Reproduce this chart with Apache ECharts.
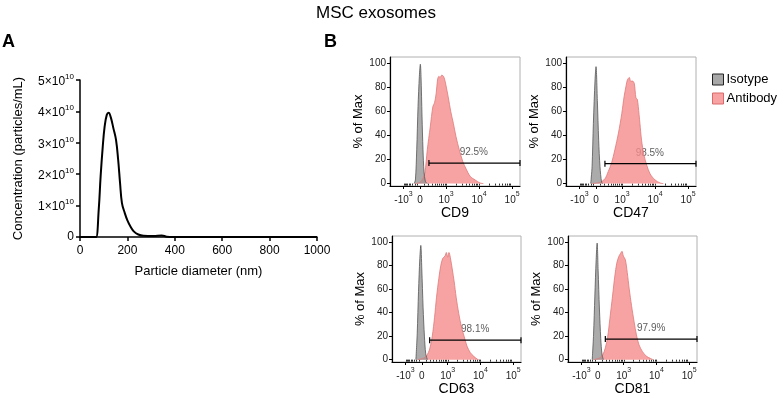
<!DOCTYPE html>
<html lang="en">
<head>
<meta charset="UTF-8">
<title>MSC exosomes</title>
</head>
<body style="margin:0">
<div id="container" style="width:778px;height:397px"></div>
<script src="https://cdn.jsdelivr.net/npm/echarts@6/dist/echarts.min.js"></script>
<script>
// Panel A: particle size distribution (concentration in 10^10 particles/mL)
var diameterNm = [0, 60, 68, 79, 87, 96, 104, 113, 121, 130, 141, 152, 161, 169, 177, 189, 200, 214, 228, 246, 268, 310, 345, 366, 394, 1000];
var concentration = [0, 0, 0, 0.87, 1.93, 2.88, 3.52, 3.89, 3.96, 3.81, 3.46, 3.09, 2.46, 1.72, 1.08, 0.76, 0.53, 0.32, 0.17, 0.08, 0.04, 0.03, 0.05, 0.01, 0, 0];

// Panel B: flow histograms, x in display (biexponential) units, y in % of max
var markers = ['CD9', 'CD47', 'CD63', 'CD81'];
var cd9IsoX = [2.03, 2.07, 2.11, 2.15, 2.19, 2.22, 2.24, 2.27, 2.30, 2.33, 2.37, 2.43];
var cd9IsoY = [0, 3, 28, 64, 89, 99, 89, 56, 28, 10, 2, 0];
var cd9AbX = [2.06, 2.21, 2.31, 2.36, 2.43, 2.52, 2.60, 2.65, 2.70, 2.74, 2.78, 2.82, 2.87, 2.92, 2.96, 3.00, 3.07, 3.14, 3.22, 3.30, 3.40, 3.51, 3.61, 3.73, 3.88, 4.03, 4.13];
var cd9AbY = [0, 1, 5, 9, 28, 47, 64, 67, 75, 86, 89, 88, 90, 89, 86, 81, 71, 60, 50, 39, 28, 18, 12, 6, 3, 0.5, 0];
var cd47IsoX = [2.05, 2.09, 2.13, 2.18, 2.21, 2.25, 2.29, 2.33, 2.38, 2.42];
var cd47IsoY = [0, 14, 50, 86, 97, 69, 36, 14, 1, 0];
var cd47AbX = [2.08, 2.33, 2.48, 2.58, 2.68, 2.78, 2.89, 2.99, 3.06, 3.12, 3.16, 3.22, 3.26, 3.32, 3.37, 3.42, 3.46, 3.49, 3.54, 3.59, 3.66, 3.75, 3.85, 4.00, 4.15, 4.25];
var cd47AbY = [0, 1, 4, 10, 17, 28, 42, 58, 72, 81, 86, 88, 85, 85, 83, 71, 70, 64, 50, 36, 24, 15, 8, 3, 0.5, 0];
var cd63IsoX = [2.03, 2.07, 2.11, 2.15, 2.18, 2.21, 2.25, 2.29, 2.33, 2.38];
var cd63IsoY = [0, 22, 58, 86, 97, 77, 44, 20, 5, 0];
var cd63AbX = [2.08, 2.23, 2.35, 2.45, 2.53, 2.60, 2.66, 2.73, 2.79, 2.85, 2.92, 2.96, 3.00, 3.04, 3.08, 3.14, 3.20, 3.26, 3.34, 3.42, 3.50, 3.59, 3.69, 3.79, 3.90, 3.95];
var cd63AbY = [0, 1, 3, 9, 20, 36, 53, 69, 80, 86, 88, 91, 87, 91, 87, 77, 66, 53, 39, 28, 20, 11.5, 6, 3, 0.5, 0];
var cd81IsoX = [2.04, 2.08, 2.12, 2.16, 2.19, 2.22, 2.26, 2.30, 2.34, 2.38];
var cd81IsoY = [0, 21, 54, 85, 99, 76, 43, 18, 4, 0];
var cd81AbX = [2.08, 2.26, 2.36, 2.44, 2.51, 2.58, 2.66, 2.73, 2.79, 2.85, 2.90, 2.95, 2.99, 3.05, 3.11, 3.17, 3.24, 3.32, 3.39, 3.47, 3.57, 3.69, 3.82, 3.90];
var cd81AbY = [0, 1.4, 4, 10, 19, 35, 54, 71, 82, 87.5, 90, 92, 88, 85, 74, 60, 46, 32, 21, 12.5, 7, 3, 1, 0];

var gateStart = [2.48, 2.48, 2.45, 2.44];
var gateLevel = [17, 16.5, 16.5, 17.5];
var gatePct = ['92.5%', '98.5%', '98.1%', '97.9%'];

var bTickPos = [1.71, 2.21, 3, 4, 5];
var bTickText = ['-10', '0', '10', '10', '10'];
var bTickSup = ['3', '', '3', '4', '5'];

var isoX = [cd9IsoX, cd47IsoX, cd63IsoX, cd81IsoX];
var isoY = [cd9IsoY, cd47IsoY, cd63IsoY, cd81IsoY];
var abX = [cd9AbX, cd47AbX, cd63AbX, cd81AbX];
var abY = [cd9AbY, cd47AbY, cd63AbY, cd81AbY];

var font = 'Liberation Sans';
var xMin = 1.30, xMax = 5.24;

function zip(xs, ys) {
    return xs.map(function (x, i) { return [x, ys[i]]; });
}

// tick positions on the biexponential axis (approximation)
function biex(v) {
    if (v >= 0) return 2.21 + Math.asinh(v / 324) / Math.LN10;
    return 2.21 - 0.5 * Math.asinh(-v / 324) / Math.asinh(1000 / 324);
}
var minorTicks = [];
for (var k = 1; k <= 9; k++) {
    minorTicks.push(biex(-100 * k));
    minorTicks.push(biex(100 * k));
    minorTicks.push(biex(1000 * k));
    minorTicks.push(biex(10000 * k));
}
minorTicks = minorTicks.filter(function (p) { return p > xMin && p < xMax; });

var bGrids = [
    { left: 390, top: 57, width: 130, height: 129 },
    { left: 566, top: 57, width: 130, height: 129 },
    { left: 392, top: 236, width: 129, height: 129 },
    { left: 568, top: 236, width: 129, height: 129 }
];

var grid = [{ left: 80, top: 80, width: 237, height: 157 }];
var xAxis = [{
    gridIndex: 0, type: 'value', min: 0, max: 1000, interval: 200,
    name: 'Particle diameter (nm)', nameLocation: 'middle', nameGap: 28,
    nameTextStyle: { fontSize: 13, color: '#000', fontFamily: font },
    axisLine: { lineStyle: { color: '#000', width: 1.5 } },
    axisTick: { length: 4, lineStyle: { color: '#000', width: 1.5 } },
    axisLabel: { fontSize: 12, color: '#000', fontFamily: font, margin: 8, formatter: function (v) { return String(v); } },
    splitLine: { show: false }
}];
var yAxis = [{
    gridIndex: 0, type: 'value', min: 0, max: 5e10, interval: 1e10,
    name: 'Concentration (particles/mL)', nameLocation: 'middle', nameGap: 55,
    nameTextStyle: { fontSize: 13, color: '#000', fontFamily: font },
    axisLine: { show: true, lineStyle: { color: '#000', width: 1.5 } },
    axisTick: { show: true, length: 4, lineStyle: { color: '#000', width: 1.5 } },
    axisLabel: {
        fontSize: 12, color: '#000', fontFamily: font, margin: 6,
        formatter: function (v) {
            if (v === 0) return '0';
            return '{b|' + Math.round(v / 1e10) + '×10}{s|10}';
        },
        rich: {
            b: { fontSize: 12, color: '#000', fontFamily: font, lineHeight: 15, verticalAlign: 'bottom' },
            s: { fontSize: 8, color: '#000', fontFamily: font, lineHeight: 15, verticalAlign: 'top' }
        }
    },
    splitLine: { show: false }
}];
var series = [{
    type: 'line', xAxisIndex: 0, yAxisIndex: 0, symbol: 'none', smooth: 0.4,
    data: diameterNm.map(function (d, i) { return [d, concentration[i] * 1e10]; }),
    lineStyle: { color: '#000', width: 2 }
}];

bGrids.forEach(function (g, i) {
    var gi = i + 1;
    grid.push({ left: g.left, top: g.top, width: g.width, height: g.height, show: true, borderColor: '#b0b0b0', borderWidth: 1 });
    xAxis.push({
        gridIndex: gi, type: 'value', min: xMin, max: xMax, position: 'bottom',
        name: markers[i], nameLocation: 'middle', nameGap: 20,
        nameTextStyle: { fontSize: 14, color: '#000', fontFamily: font },
        axisLine: { onZero: false, lineStyle: { color: '#000', width: 1.2 } },
        axisTick: { customValues: bTickPos, length: 3, lineStyle: { color: '#000' } },
        axisLabel: {
            customValues: bTickPos, margin: 5, fontSize: 10, fontFamily: font,
            formatter: function (v) {
                var j = 0;
                bTickPos.forEach(function (p, n) { if (Math.abs(p - v) < 0.01) j = n; });
                return '{b|' + bTickText[j] + '}' + (bTickSup[j] ? '{s|' + bTickSup[j] + '}' : '');
            },
            rich: {
                b: { fontSize: 10, color: '#222', fontFamily: font, lineHeight: 14, verticalAlign: 'bottom' },
                s: { fontSize: 7, color: '#222', fontFamily: font, lineHeight: 14, verticalAlign: 'top' }
            }
        },
        splitLine: { show: false }
    });
    yAxis.push({
        gridIndex: gi, type: 'value', min: -2, max: 105,
        name: '% of Max', nameLocation: 'middle', nameGap: 25,
        nameTextStyle: { fontSize: 13, color: '#000', fontFamily: font },
        axisLine: { show: true, onZero: false, lineStyle: { color: '#000', width: 1.2 } },
        axisTick: { show: true, customValues: [0, 20, 40, 60, 80, 100], length: 3, lineStyle: { color: '#000' } },
        axisLabel: { customValues: [0, 20, 40, 60, 80, 100], fontSize: 10, color: '#222', fontFamily: font, margin: 4 },
        splitLine: { show: false }
    });
});
// minor ticks on the flow axes
bGrids.forEach(function (g, i) {
    xAxis.push({
        gridIndex: i + 1, type: 'value', min: xMin, max: xMax, position: 'bottom',
        axisLine: { show: false },
        axisTick: { customValues: minorTicks, length: 2, lineStyle: { color: '#000', width: 0.8 } },
        axisLabel: { show: false },
        splitLine: { show: false }
    });
});

markers.forEach(function (m, i) {
    var gi = i + 1;
    series.push({
        name: 'Antibody', type: 'line', xAxisIndex: gi, yAxisIndex: gi, symbol: 'none', smooth: 0.3,
        data: zip(abX[i], abY[i]),
        lineStyle: { color: '#de7878', width: 0.8 },
        areaStyle: { color: 'rgba(245,140,140,0.8)', opacity: 1 },
        itemStyle: { color: '#f7a3a3' }
    });
    series.push({
        name: 'Isotype', type: 'line', xAxisIndex: gi, yAxisIndex: gi, symbol: 'none', smooth: 0.3,
        data: zip(isoX[i], isoY[i]),
        lineStyle: { color: '#555', width: 0.8 },
        areaStyle: { color: 'rgba(150,150,150,0.8)', opacity: 1 },
        itemStyle: { color: '#a8a8a8' }
    });
    series.push({
        type: 'line', xAxisIndex: gi, yAxisIndex: gi, symbol: 'rect', symbolSize: [1.2, 6],
        data: [[gateStart[i], gateLevel[i]], [xMax, gateLevel[i]]],
        lineStyle: { color: '#000', width: 1.2 }, itemStyle: { color: '#000' }, z: 5
    });
    series.push({
        type: 'scatter', xAxisIndex: gi, yAxisIndex: gi, symbolSize: 0,
        data: [[3.84, gateLevel[i] + 9]],
        label: { show: true, position: 'inside', formatter: gatePct[i], fontSize: 10, color: '#333', fontFamily: font }
    });
});

var chart = echarts.init(document.getElementById('container'));
chart.setOption({
    animation: false,
    title: {
        text: 'MSC exosomes', left: 311, top: 0,
        textStyle: { fontSize: 17, fontWeight: 'normal', color: '#000', fontFamily: font }
    },
    graphic: [
        { type: 'text', left: 2, top: 33, style: { text: 'A', fontSize: 18, fontWeight: 'bold', fill: '#000', fontFamily: font } },
        { type: 'text', left: 324, top: 33, style: { text: 'B', fontSize: 18, fontWeight: 'bold', fill: '#000', fontFamily: font } }
    ],
    legend: {
        orient: 'vertical', left: 707, top: 68, itemWidth: 11, itemHeight: 11, itemGap: 6,
        textStyle: { fontSize: 13, color: '#000', fontFamily: font, padding: [0, 0, 0, -2] },
        data: [
            { name: 'Isotype', icon: 'rect', itemStyle: { color: '#a8a8a8', borderColor: '#222', borderWidth: 1 } },
            { name: 'Antibody', icon: 'rect', itemStyle: { color: '#f7a3a3', borderColor: '#d96a6a', borderWidth: 1 } }
        ]
    },
    grid: grid,
    xAxis: xAxis,
    yAxis: yAxis,
    series: series
});
</script>
</body>
</html>
